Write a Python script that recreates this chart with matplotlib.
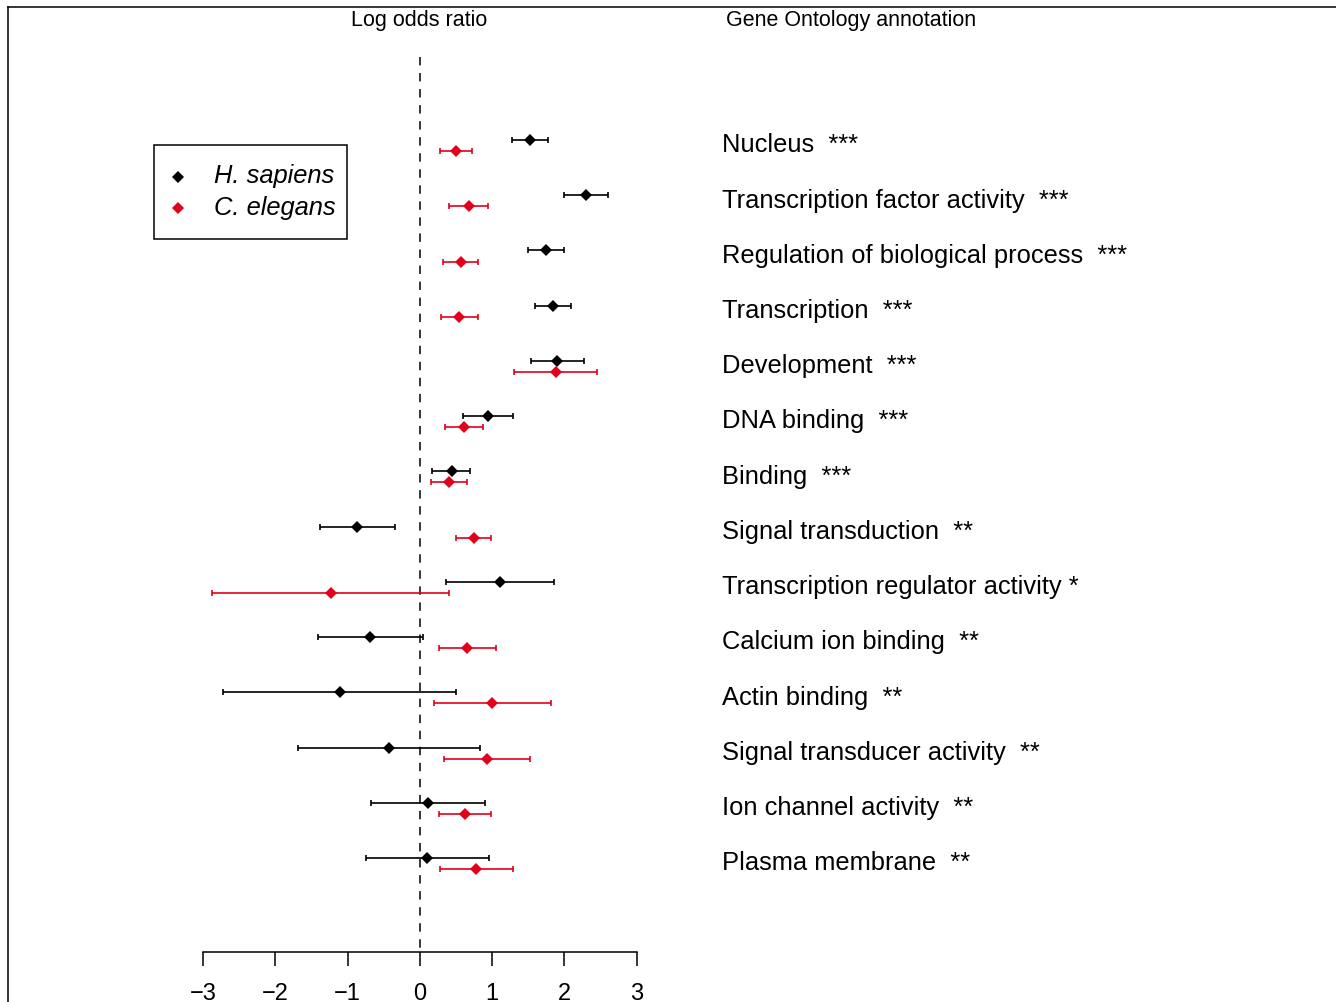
import matplotlib
matplotlib.use("Agg")
import matplotlib.pyplot as plt
import matplotlib.transforms as mtrans
from matplotlib.lines import Line2D
from matplotlib.patches import Rectangle

plt.rcParams['font.family'] = ['Liberation Sans', 'DejaVu Sans']

categories = ["Nucleus", "Transcription factor activity", "Regulation of biological process",
              "Transcription", "Development", "DNA binding", "Binding", "Signal transduction",
              "Transcription regulator activity", "Calcium ion binding", "Actin binding",
              "Signal transducer activity", "Ion channel activity", "Plasma membrane"]
stars = ["***", "***", "***", "***", "***", "***", "***", "**", "*", "**", "**", "**", "**", "**"]

hs_est = [1.52, 2.30, 1.75, 1.85, 1.90, 0.94, 0.44, -0.865, 1.11, -0.685, -1.11, -0.42, 0.11, 0.10]
hs_lo  = [1.28, 2.00, 1.50, 1.60, 1.54, 0.60, 0.17, -1.38, 0.36, -1.41, -2.73, -1.68, -0.68, -0.75]
hs_hi  = [1.77, 2.61, 2.00, 2.09, 2.27, 1.29, 0.70, -0.34, 1.86, 0.05, 0.505, 0.84, 0.91, 0.96]

ce_est = [0.50, 0.68, 0.57, 0.55, 1.88, 0.61, 0.40, 0.745, -1.23, 0.66, 1.00, 0.93, 0.62, 0.78]
ce_lo  = [0.28, 0.41, 0.32, 0.30, 1.30, 0.35, 0.16, 0.50, -2.87, 0.27, 0.20, 0.34, 0.27, 0.28]
ce_hi  = [0.72, 0.95, 0.80, 0.80, 2.45, 0.87, 0.65, 0.99, 0.40, 1.06, 1.81, 1.53, 0.985, 1.29]

xticks = [-3, -2, -1, 0, 1, 2, 3]
RED = "#E2001A"

W, H = 1336, 1002
fig = plt.figure(figsize=(W / 100, H / 100), dpi=100)
fig.patch.set_facecolor("white")

# axes: x=-3 at px 203, x=3 at px 636.5 ; rows spaced 55.23 px, row 0 at px 140
x0px, x1px = 203.0, 636.5
row0, rowstep = 140.0, 55.23
ax = fig.add_axes([x0px / W, 0, (x1px - x0px) / W, 1])
ax.set_xlim(-3, 3)
ax.set_ylim((H - row0) / rowstep, -row0 / rowstep)
ax.patch.set_alpha(0)

n = len(categories)
rows = list(range(n))
rows_ce = [r + 0.2 for r in rows]

hs_err = [[e - l for e, l in zip(hs_est, hs_lo)], [h - e for e, h in zip(hs_est, hs_hi)]]
ce_err = [[e - l for e, l in zip(ce_est, ce_lo)], [h - e for e, h in zip(ce_est, ce_hi)]]

# reference line
ax.plot([0, 0], [(57 - row0) / rowstep, (951 - row0) / rowstep], color="black",
        lw=1.1, dashes=(5.5, 5), zorder=1)

ax.errorbar(hs_est, rows, xerr=hs_err, fmt="none", ecolor="black",
            elinewidth=1.2, capsize=2.4, capthick=1.2, zorder=2)
ax.errorbar(ce_est, rows_ce, xerr=ce_err, fmt="none", ecolor=RED,
            elinewidth=1.2, capsize=2.4, capthick=1.2, zorder=2)
ax.plot(hs_est, rows, linestyle="none", marker="D", ms=6.6, mew=0, color="black", zorder=3)
ax.plot(ce_est, rows_ce, linestyle="none", marker="D", ms=6.6, mew=0, color=RED, zorder=3)

for s in ["top", "right", "left"]:
    ax.spines[s].set_visible(False)
ax.spines["bottom"].set_position(("data", (952 - row0) / rowstep))
ax.spines["bottom"].set_bounds(-3, 3)
ax.spines["bottom"].set_linewidth(1.1)
ax.set_xticks(xticks)
ax.set_xticklabels([("\u2212%d" % abs(t)) if t < 0 else str(t) for t in xticks])
ax.tick_params(axis="x", direction="out", length=10, width=1.1, labelsize=17, pad=12)
ax.set_yticks([])

# category labels
btr = mtrans.blended_transform_factory(fig.transFigure, ax.transData)
for r, c, s in zip(rows, categories, stars):
    sep = " " if s == "*" else "  "
    ax.text(722 / W, r + 0.223, c + sep + s, transform=btr, fontsize=18.4,
            ha="left", va="baseline", clip_on=False)

# headers
fig.text(419.5 / W, 1 - 26 / H, "Log odds ratio", fontsize=15.5, ha="center", va="baseline")
fig.text(726 / W, 1 - 26 / H, "Gene Ontology annotation", fontsize=15.5, ha="left", va="baseline")

# outer frame pieces
fig.add_artist(Line2D([8 / W, 1], [1 - 7 / H, 1 - 7 / H], color="black", lw=1.1,
                      transform=fig.transFigure))
fig.add_artist(Line2D([8 / W, 8 / W], [0, 1 - 7 / H], color="black", lw=1.1,
                      transform=fig.transFigure))

# legend
fig.add_artist(Rectangle((154 / W, 1 - 239 / H), (347 - 154) / W, (239 - 145) / H,
                         fill=False, edgecolor="black", lw=1.1, transform=fig.transFigure))
fig.add_artist(Line2D([178 / W], [1 - 176.7 / H], marker="D", ms=6, mew=0, color="black",
                      linestyle="none", transform=fig.transFigure))
fig.add_artist(Line2D([178 / W], [1 - 208.3 / H], marker="D", ms=6, mew=0, color=RED,
                      linestyle="none", transform=fig.transFigure))
fig.text(214 / W, 1 - 183.3 / H, "H. sapiens", fontsize=18.4, style="italic", ha="left", va="baseline")
fig.text(214 / W, 1 - 215 / H, "C. elegans", fontsize=18.4, style="italic", ha="left", va="baseline")

fig.savefig("out.png", dpi=100, facecolor="white")
